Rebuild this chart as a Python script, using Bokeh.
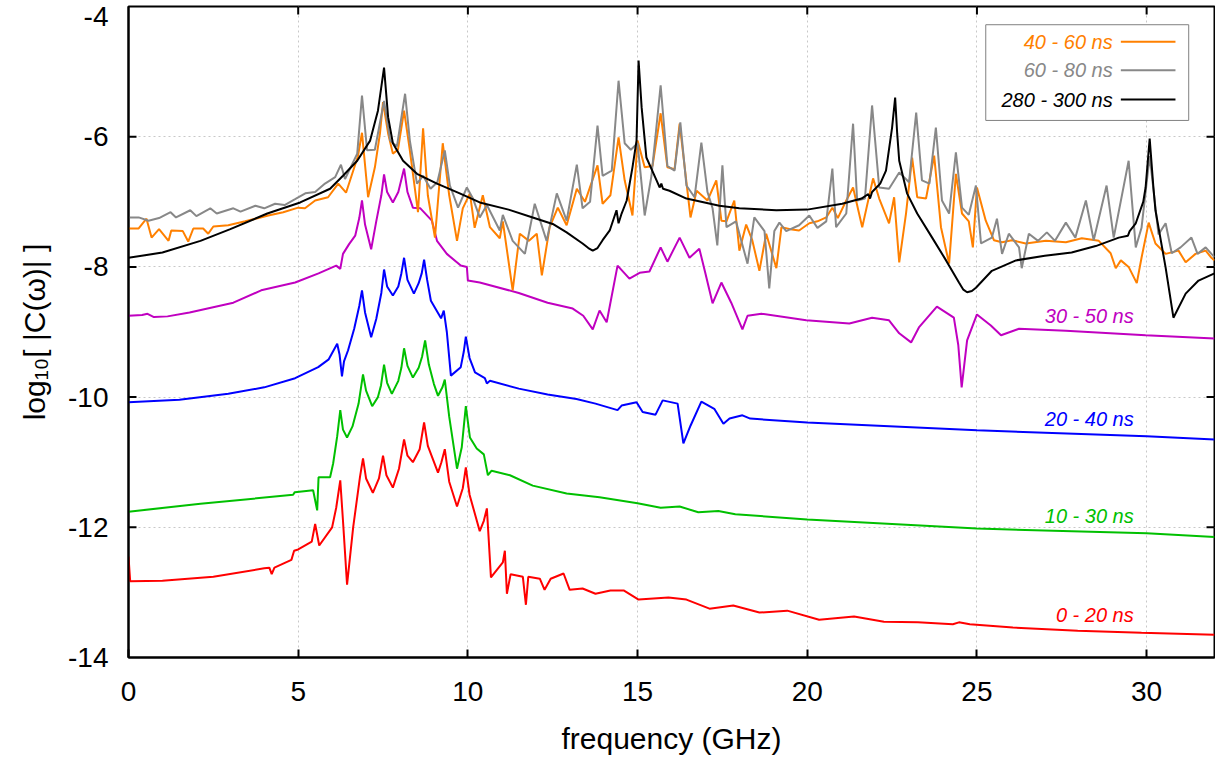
from bokeh.plotting import figure
from bokeh.models import Range1d, FixedTicker, NumeralTickFormatter
from bokeh.embed import file_html
from bokeh.resources import INLINE
from bokeh.core.properties import value

# ---------------- data ----------------
x_ticks = [0, 5, 10, 15, 20, 25, 30]
y_ticks = [-14, -12, -10, -8, -6, -4]

red_x = [0, 0.05, 1.0, 2.5, 4.0, 4.15, 4.22, 4.3, 4.8, 4.88,
         5.0, 5.4, 5.5, 5.62, 6.0, 6.12, 6.24, 6.32, 6.44, 6.62,
         6.82, 6.91, 7.0, 7.2, 7.38, 7.5, 7.6, 7.79, 7.97, 8.12,
         8.22, 8.38, 8.58, 8.71, 8.82, 9.12, 9.22, 9.32, 9.45, 9.68,
         9.85, 9.94, 10.05, 10.35, 10.47, 10.56, 10.68, 11.03, 11.09, 11.15,
         11.26, 11.62, 11.71, 11.78, 12.12, 12.26, 12.44, 12.82, 13.0, 13.38,
         13.76, 14.2, 14.59, 15.03, 15.91, 16.44, 17.12, 17.82, 18.59, 19.41,
         20.35, 21.38, 22.26, 23.26, 24.29, 24.47, 24.79, 26.06, 27.97, 29.85,
         32]
red_y = [-12.45, -12.83, -12.82, -12.76, -12.63, -12.62, -12.72, -12.62, -12.5, -12.36,
         -12.34, -12.22, -11.95, -12.28, -12.0, -11.7, -11.28, -11.9, -12.88, -12.0,
         -11.23, -10.94, -11.25, -11.47, -11.25, -10.9, -11.2, -11.39, -11.1, -10.65,
         -10.9, -11.0, -10.8, -10.39, -10.75, -11.16, -11.0, -10.8, -11.3, -11.68,
         -11.4, -11.08, -11.5, -12.06, -11.9, -11.71, -12.77, -12.54, -12.36, -13.02,
         -12.72, -12.76, -13.19, -12.76, -12.79, -12.96, -12.79, -12.71, -12.96, -12.94,
         -13.02, -12.97, -12.97, -13.11, -13.08, -13.11, -13.25, -13.2, -13.31, -13.28,
         -13.42, -13.37, -13.45, -13.46, -13.49, -13.46, -13.49, -13.54, -13.59, -13.62,
         -13.65]

green_x = [0, 2.12, 4.85, 4.9, 5.44, 5.56, 5.6, 5.94, 6.03, 6.15,
           6.24, 6.32, 6.44, 6.6, 6.78, 6.91, 7.0, 7.18, 7.35, 7.44,
           7.53, 7.62, 7.76, 7.95, 8.04, 8.12, 8.22, 8.38, 8.55, 8.65,
           8.74, 8.85, 9.0, 9.12, 9.25, 9.32, 9.45, 9.68, 9.82, 9.88,
           9.94, 10.06, 10.26, 10.47, 10.59, 10.7, 11.24, 11.91, 12.91, 13.88,
           15.0, 15.68, 16.24, 16.79, 17.38, 17.88, 20.0, 25.0, 30.0, 32]
green_y = [-11.76, -11.64, -11.5, -11.46, -11.43, -11.74, -11.23, -11.23, -11.02, -10.6,
           -10.2, -10.5, -10.62, -10.45, -10.1, -9.65, -9.9, -10.14, -10.0, -9.82,
           -9.5, -9.78, -9.95, -9.75, -9.55, -9.25, -9.52, -9.7, -9.55, -9.38,
           -9.13, -9.5, -9.8, -9.98, -9.85, -9.73, -10.3, -11.1, -10.77, -10.45,
           -10.14, -10.62, -10.79, -10.88, -11.2, -11.13, -11.2, -11.36, -11.48, -11.54,
           -11.63, -11.7, -11.68, -11.77, -11.75, -11.8, -11.88, -12.02, -12.09, -12.15]

blue_x = [0, 1.5, 2.94, 4.0, 4.91, 5.59, 5.9, 6.15, 6.22, 6.29,
          6.35, 6.47, 6.65, 6.8, 6.88, 6.97, 7.15, 7.3, 7.45, 7.53,
          7.62, 7.79, 7.95, 8.04, 8.12, 8.22, 8.41, 8.55, 8.64, 8.71,
          8.8, 8.91, 9.21, 9.29, 9.38, 9.5, 9.79, 9.88, 9.94, 10.05,
          10.21, 10.5, 10.56, 10.65, 11.5, 12.35, 13.2, 13.76, 14.41, 14.53,
          14.97, 15.15, 15.53, 15.74, 16.18, 16.35, 16.56, 16.88, 17.26, 17.53,
          17.71, 18.09, 18.32, 20.0, 25.0, 30.0, 32]
blue_y = [-10.08, -10.04, -9.95, -9.85, -9.71, -9.54, -9.42, -9.18, -9.35, -9.68,
          -9.45, -9.28, -8.95, -8.6, -8.36, -8.7, -9.08, -8.8, -8.4, -8.04,
          -8.3, -8.44, -8.3, -8.1, -7.86, -8.2, -8.41, -8.25, -8.1, -7.89,
          -8.2, -8.52, -8.79, -8.67, -9.0, -9.67, -9.54, -9.3, -9.07, -9.4,
          -9.62, -9.71, -9.79, -9.75, -9.87, -9.96, -10.03, -10.1, -10.2, -10.13,
          -10.08, -10.23, -10.27, -10.05, -10.1, -10.71, -10.44, -10.07, -10.18, -10.41,
          -10.33, -10.28, -10.33, -10.39, -10.51, -10.6, -10.65]

magenta_x = [0, 0.4, 0.56, 0.75, 1.15, 1.8, 3.09, 3.91, 4.91, 5.6,
             6.12, 6.24, 6.32, 6.5, 6.68, 6.8, 6.88, 6.97, 7.15, 7.3,
             7.45, 7.53, 7.62, 7.79, 7.95, 8.12, 8.22, 8.38, 8.6, 8.94,
             9.09, 9.38, 9.79, 9.97, 10.0, 10.35, 11.5, 12.35, 13.09, 13.4,
             13.68, 13.88, 14.09, 14.41, 14.76, 15.06, 15.35, 15.68, 15.88, 16.24,
             16.53, 16.82, 17.0, 17.21, 17.47, 17.76, 18.09, 18.24, 18.65, 19.97,
             21.24, 21.91, 22.41, 22.71, 23.06, 23.29, 23.82, 24.32, 24.45, 24.55,
             24.71, 25.0, 25.41, 25.71, 26.24, 27.62, 29.97, 32]
magenta_y = [-8.75, -8.74, -8.72, -8.77, -8.76, -8.7, -8.55, -8.36, -8.24, -8.1,
             -7.98, -8.03, -7.8, -7.65, -7.52, -7.25, -6.98, -7.35, -7.73, -7.3,
             -6.9, -6.58, -6.85, -7.01, -6.85, -6.49, -6.85, -7.09, -7.1, -7.29,
             -7.6, -7.8, -7.98, -8.0, -8.21, -8.24, -8.4, -8.55, -8.64, -8.75,
             -8.96, -8.67, -8.85, -7.98, -8.18, -8.09, -8.07, -7.7, -7.92, -7.55,
             -7.86, -7.72, -8.1, -8.56, -8.24, -8.55, -8.96, -8.75, -8.72, -8.82,
             -8.87, -8.78, -8.82, -9.02, -9.16, -8.93, -8.61, -8.78, -9.2, -9.85,
             -9.13, -8.73, -8.9, -9.05, -8.95, -8.98, -9.05, -9.1]

orange_x = [0, 0.3, 0.53, 0.68, 0.9, 1.18, 1.26, 1.6, 1.76, 1.91,
            2.2, 2.35, 2.5, 2.94, 3.44, 4.12, 4.56, 5.0, 5.2, 5.5,
            5.88, 6.18, 6.41, 6.76, 6.88, 7.06, 7.26, 7.41, 7.5, 7.65,
            7.79, 7.94, 8.12, 8.29, 8.53, 8.68, 8.82, 9.03, 9.26, 9.45,
            9.68, 9.85, 10.06, 10.2, 10.44, 10.65, 10.94, 11.03, 11.32, 11.53,
            11.8, 12.03, 12.18, 12.41, 12.65, 12.91, 13.21, 13.45, 13.82, 13.97,
            14.2, 14.44, 14.62, 14.85, 15.0, 15.21, 15.44, 15.68, 15.88, 16.09,
            16.24, 16.56, 16.74, 17.06, 17.32, 17.47, 17.62, 17.85, 18.0, 18.2,
            18.38, 18.59, 18.79, 19.09, 19.24, 19.5, 19.76, 20.06, 20.3, 20.56,
            20.74, 20.9, 21.15, 21.35, 21.62, 21.94, 22.12, 22.41, 22.56, 22.71,
            22.91, 23.09, 23.24, 23.5, 23.74, 23.94, 24.18, 24.38, 24.56, 24.76,
            24.88, 25.0, 25.26, 25.5, 25.74, 26.03, 26.44, 27.03, 27.62, 28.09,
            28.59, 28.94, 29.09, 29.24, 29.47, 29.71, 29.85, 30.06, 30.26, 30.56,
            30.94, 31.15, 31.44, 31.74, 31.91, 32]
orange_y = [-7.41, -7.41, -7.26, -7.55, -7.42, -7.6, -7.44, -7.45, -7.61, -7.41,
            -7.41, -7.49, -7.38, -7.36, -7.3, -7.21, -7.16, -7.09, -7.1, -6.98,
            -6.93, -6.72, -6.86, -6.3, -5.94, -6.93, -6.47, -5.95, -5.47, -5.95,
            -6.26, -6.2, -5.6, -6.21, -7.16, -5.87, -6.9, -7.55, -6.1, -6.9,
            -7.6, -7.1, -6.87, -7.4, -6.9, -7.39, -7.56, -7.3, -8.36, -7.49,
            -7.6, -7.49, -8.13, -7.39, -7.09, -7.36, -6.8, -7.0, -6.44, -7.03,
            -6.9, -6.01, -6.67, -7.21, -6.06, -6.47, -6.45, -5.64, -6.47, -6.5,
            -5.8, -7.24, -6.83, -6.98, -6.67, -7.29, -7.3, -6.98, -7.75, -7.35,
            -7.59, -8.06, -7.49, -8.02, -7.39, -7.42, -7.44, -7.33, -7.3, -7.24,
            -7.09, -7.25, -6.98, -6.78, -7.39, -6.64, -6.95, -7.33, -6.93, -7.93,
            -7.18, -6.32, -6.93, -6.95, -6.29, -7.39, -7.95, -6.57, -7.18, -7.3,
            -7.7, -6.78, -7.29, -7.59, -7.62, -7.59, -7.64, -7.6, -7.62, -7.56,
            -7.6, -7.79, -8.02, -7.9, -8.0, -8.25, -7.86, -7.32, -7.64, -7.8,
            -7.75, -7.93, -7.8, -7.75, -7.86, -7.9]

gray_x = [0, 0.3, 0.59, 0.9, 1.24, 1.4, 1.82, 2.0, 2.41, 2.6,
          3.09, 3.3, 3.74, 4.0, 4.32, 4.6, 4.91, 5.21, 5.5, 5.79,
          6.09, 6.26, 6.38, 6.74, 6.88, 7.03, 7.26, 7.53, 7.71, 7.91,
          8.15, 8.29, 8.5, 8.68, 8.9, 9.1, 9.32, 9.47, 9.71, 9.97,
          10.15, 10.35, 10.56, 10.94, 11.03, 11.32, 11.68, 11.97, 12.32, 12.62,
          12.91, 13.21, 13.38, 13.6, 13.82, 13.97, 14.24, 14.44, 14.62, 14.8,
          15.0, 15.21, 15.41, 15.68, 15.88, 16.09, 16.26, 16.44, 16.68, 16.88,
          17.06, 17.21, 17.35, 17.5, 17.62, 17.9, 18.24, 18.44, 18.74, 18.88,
          19.03, 19.18, 19.38, 19.76, 20.06, 20.3, 20.56, 20.74, 20.85, 21.15,
          21.35, 21.47, 21.7, 21.91, 22.12, 22.41, 22.71, 23.0, 23.21, 23.38,
          23.6, 23.79, 23.97, 24.18, 24.38, 24.56, 24.76, 24.97, 25.12, 25.44,
          25.59, 25.74, 25.94, 26.24, 26.32, 26.53, 26.8, 27.06, 27.3, 27.62,
          27.9, 28.21, 28.44, 28.82, 29.03, 29.47, 29.68, 29.85, 30.09, 30.35,
          30.56, 30.74, 31.0, 31.32, 31.5, 31.74, 31.91, 32]
gray_y = [-7.24, -7.24, -7.29, -7.25, -7.16, -7.24, -7.13, -7.22, -7.1, -7.18,
          -7.1, -7.15, -7.06, -7.1, -7.03, -7.05, -6.96, -6.87, -6.85, -6.72,
          -6.62, -6.43, -6.65, -6.26, -5.37, -6.21, -6.2, -5.45, -6.06, -6.15,
          -5.34, -6.06, -6.72, -6.6, -6.8, -6.7, -6.21, -6.75, -7.09, -6.78,
          -6.95, -7.24, -7.05, -7.44, -7.2, -7.6, -7.8, -7.03, -7.6, -6.87,
          -7.29, -6.43, -7.1, -7.0, -5.83, -6.6, -6.52, -5.14, -6.1, -6.2,
          -6.1, -7.21, -6.6, -5.21, -6.45, -6.52, -5.78, -6.75, -6.93, -6.09,
          -6.85, -7.1, -7.67, -6.44, -7.39, -7.3, -7.95, -7.24, -7.45, -8.33,
          -7.45, -7.32, -7.45, -7.36, -7.21, -7.4, -7.3, -6.49, -7.39, -7.18,
          -5.8, -6.98, -6.95, -5.52, -6.78, -6.8, -6.55, -6.7, -5.63, -6.67,
          -6.72, -5.86, -6.98, -7.18, -6.24, -7.09, -7.2, -6.75, -7.64, -7.55,
          -7.26, -7.8, -7.49, -7.7, -8.02, -7.49, -7.6, -7.47, -7.6, -7.32,
          -7.55, -6.98, -7.59, -6.75, -7.55, -6.37, -7.7, -7.4, -6.3, -7.5,
          -7.33, -7.79, -7.7, -7.55, -7.8, -7.7, -7.8, -7.85]

black_x = [0, 1.0, 2.12, 3.0, 4.09, 5.06, 5.94, 6.32, 6.74, 7.12,
           7.35, 7.53, 7.65, 7.79, 8.09, 8.5, 9.09, 9.76, 10.35, 11.2,
           11.91, 12.5, 12.91, 13.38, 13.55, 13.68, 13.82, 13.97, 14.18, 14.38,
           14.44, 14.53, 14.68, 14.85, 14.97, 15.03, 15.12, 15.26, 15.56, 15.65,
           15.7, 15.75, 15.94, 16.44, 17.41, 18.0, 19.09, 20.0, 21.03, 21.6,
           21.8, 21.85, 21.91, 22.15, 22.32, 22.5, 22.59, 22.65, 22.71, 22.94,
           23.24, 23.68, 24.09, 24.47, 24.6, 24.71, 24.85, 24.97, 25.44, 26.15,
           27.0, 27.79, 28.5, 29.18, 29.45, 29.5, 29.68, 29.9, 29.97, 30.09,
           30.2, 30.26, 30.56, 30.79, 31.15, 31.53, 32]
black_y = [-7.86, -7.78, -7.6, -7.42, -7.18, -7.01, -6.8, -6.6, -6.37, -6.06,
           -5.6, -4.94, -5.7, -6.1, -6.37, -6.57, -6.72, -6.87, -7.01, -7.12,
           -7.24, -7.34, -7.47, -7.64, -7.71, -7.75, -7.71, -7.59, -7.44, -7.13,
           -7.33, -7.18, -6.98, -6.47, -6.06, -4.83, -5.55, -6.32, -6.67, -6.78,
           -6.72, -6.8, -6.83, -6.95, -7.06, -7.1, -7.13, -7.12, -7.03, -6.95,
           -6.88, -6.95, -6.85, -6.72, -6.52, -5.86, -5.4, -5.95, -6.37, -6.87,
           -7.18, -7.55, -7.9, -8.24, -8.35, -8.39, -8.37, -8.32, -8.06, -7.9,
           -7.83, -7.78, -7.68, -7.55, -7.52, -7.45, -7.33, -7.0, -6.78, -6.03,
           -6.78, -7.13, -8.01, -8.78, -8.41, -8.21, -8.1]

inline_labels = ["0 - 20 ns", "10 - 30 ns", "20 - 40 ns", "30 - 50 ns"]
legend_labels = ["40 - 60 ns", "60 - 80 ns", "280 - 300 ns"]

# ---------------- styles ----------------
C_RED, C_GREEN, C_BLUE, C_MAG = "#ff0000", "#00c000", "#0000ff", "#c000c0"
C_ORANGE, C_GRAY, C_BLACK = "#ff8000", "#888888", "#000000"
FONT = "Liberation Sans"
X0, X1, Y0, Y1 = 0, 32, -14, -4
TOP_LABEL_NUDGE = 0.15   # the "-4" label sits a little below the frame edge, as in the reference

p = figure(width=1215, height=764, x_range=Range1d(X0, X1), y_range=Range1d(Y0, Y1),
           output_backend="svg", toolbar_location=None,
           min_border_left=128, min_border_right=1, min_border_top=6, min_border_bottom=107)
p.background_fill_color = "white"
p.border_fill_color = "white"
p.outline_line_color = "black"
p.outline_line_width = 2

for ax in (p.xaxis[0], p.yaxis[0]):
    ax.axis_line_width = 2
    ax.major_tick_in = 8
    ax.major_tick_out = 0
    ax.major_tick_line_width = 2
    ax.minor_tick_line_color = None
    ax.major_label_text_font = FONT
    ax.major_label_text_font_size = "28px"
    ax.major_label_text_color = "black"
    ax.axis_label_text_font = FONT
    ax.axis_label_text_font_style = "normal"
    ax.axis_label_text_color = "black"
    ax.formatter = NumeralTickFormatter(format="0")

p.xaxis.ticker = FixedTicker(ticks=x_ticks)
y_label_pos = y_ticks[:-1] + [y_ticks[-1] - TOP_LABEL_NUDGE]
p.yaxis.ticker = FixedTicker(ticks=y_label_pos)
p.yaxis.major_label_overrides = {y_label_pos[-1]: str(y_ticks[-1])}
p.yaxis.major_tick_line_color = None      # y tick marks drawn below at the exact values
p.xaxis.major_label_standoff = 24
p.yaxis.major_label_standoff = 20
p.xaxis.axis_label = "frequency (GHz)"
p.yaxis.axis_label = "log\u2081\u2080[ |C(\u03c9)| ]"
p.xaxis.axis_label_text_font_size = "30px"
p.yaxis.axis_label_text_font_size = "30px"
p.xaxis.axis_label_standoff = 18
p.yaxis.axis_label_standoff = 14

# inward tick marks: y ticks on left and right, mirrored x ticks on top
tick_dy = 8 / 65.1
tick_dx = 8 / 34.0
inner_y = y_ticks[1:-1]
p.segment(x0=[X0] * 4, y0=inner_y, x1=[X0 + tick_dx] * 4, y1=inner_y, line_color="black", line_width=2)
p.segment(x0=[X1] * 4, y0=inner_y, x1=[X1 - tick_dx] * 4, y1=inner_y, line_color="black", line_width=2)
p.segment(x0=x_ticks[1:], y0=[Y1] * 6, x1=x_ticks[1:], y1=[Y1 - tick_dy] * 6,
          line_color="black", line_width=2)

for g in (p.xgrid[0], p.ygrid[0]):
    g.grid_line_color = "#c8c8c8"
    g.grid_line_dash = "2 3"
    g.grid_line_width = 1
p.ygrid.ticker = FixedTicker(ticks=inner_y)

LW = 2
p.line(red_x, red_y, line_color=C_RED, line_width=LW)
p.line(green_x, green_y, line_color=C_GREEN, line_width=LW)
p.line(blue_x, blue_y, line_color=C_BLUE, line_width=LW)
p.line(magenta_x, magenta_y, line_color=C_MAG, line_width=LW)
p.line(orange_x, orange_y, line_color=C_ORANGE, line_width=LW)
p.line(gray_x, gray_y, line_color=C_GRAY, line_width=LW)
p.line(black_x, black_y, line_color=C_BLACK, line_width=LW)

# inline series labels
p.text(x=[29.62] * 4, y=[-13.35, -11.82, -10.33, -8.75], text=inline_labels,
       text_color=[C_RED, C_GREEN, C_BLUE, C_MAG], text_align="right", text_baseline="middle",
       text_font=value(FONT), text_font_style="italic", text_font_size="20px")

# legend (text left of the line sample, as in the reference)
p.quad(left=[25.26], right=[31.24], top=[-4.28], bottom=[-5.75],
       fill_color="white", line_color="#808080", line_width=1)
leg_y = [-4.54, -4.98, -5.43]
leg_c = [C_ORANGE, C_GRAY, C_BLACK]
p.text(x=[29.0] * 3, y=leg_y, text=legend_labels, text_color=leg_c,
       text_align="right", text_baseline="middle",
       text_font=value(FONT), text_font_style="italic", text_font_size="20px")
p.segment(x0=[29.24] * 3, y0=leg_y, x1=[30.85] * 3, y1=leg_y, line_color=leg_c, line_width=LW)

open("out.html", "w").write(file_html(p, INLINE))
